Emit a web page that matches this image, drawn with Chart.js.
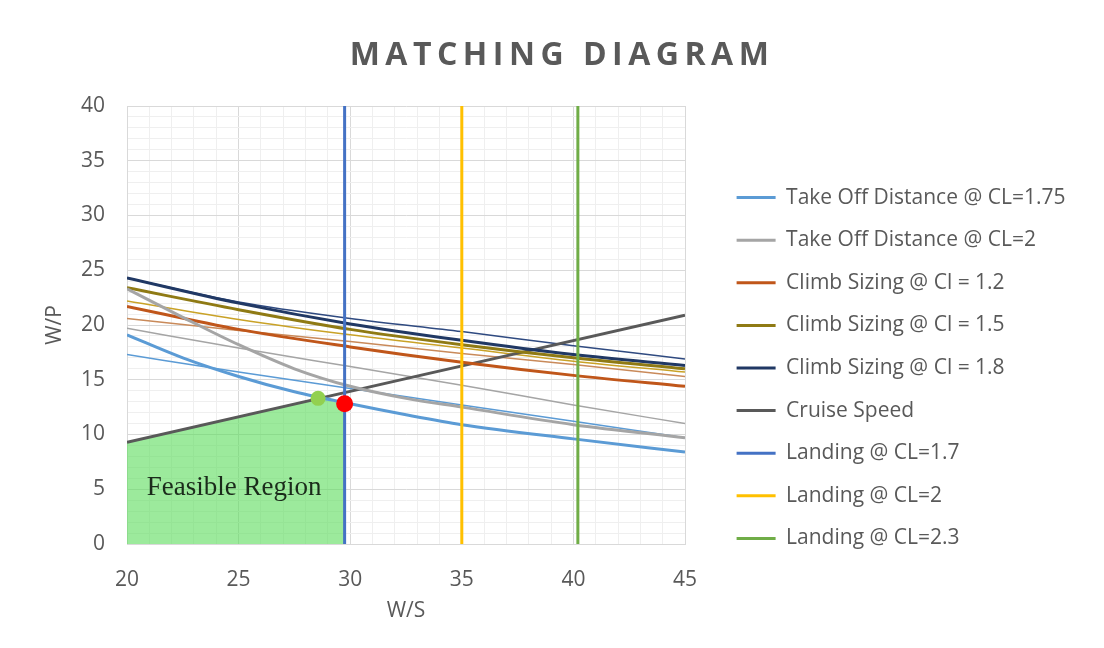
<!DOCTYPE html>
<html>
<head>
<meta charset="utf-8">
<script src="https://cdn.jsdelivr.net/npm/chart.js@4.4.1/dist/chart.umd.min.js"></script>
<style>
  html, body { margin: 0; padding: 0; background: #fff; }
  #wrap { position: relative; width: 1104px; height: 648px; }
  #myChart { position: absolute; left: 0; top: 0; }
  #title {
    position: absolute; left: 0; top: 31px; width: 1104px; box-sizing: border-box;
    padding-left: 20px; text-align: center; line-height: 36px;
    font: bold 32px "Open Sans", sans-serif; letter-spacing: 5.5px; color: #595959;
  }
</style>
</head>
<body>
<div id="wrap">
  <canvas id="myChart" width="1104" height="648"></canvas>
  <div id="title">MATCHING DIAGRAM</div>
</div>
<script>
// DATA (W/S on x, W/P on y)
const wsCoarse = [20, 25, 30, 35, 40, 45];
const wsFine = [20, 22.5, 25, 27.5, 30, 32.5, 35, 40, 45];
const takeOff175 = [19.1, 17.0, 15.3, 13.9, 12.8, 11.8, 10.9, 9.6, 8.4];
const takeOff2 = [23.3, 20.7, 18.2, 16.0, 14.4, 13.3, 12.5, 10.9, 9.7];
const climb12 = [21.7, 19.6, 18.0, 16.6, 15.4, 14.4];
const climb15 = [23.4, 21.4, 19.6, 18.2, 17.0, 16.0];
const climb18 = [24.3, 22.0, 20.1, 18.6, 17.3, 16.3];
const cruiseWs = [20, 45];
const cruiseWp = [9.3, 20.9];
const landingWs = [29.75, 35, 40.2];
const landingSpan = [0, 40];
// earlier runs, thin lines with no legend entry
const oldClimb18 = [24.3, 22.1, 20.6, 19.4, 18.1, 16.9];
const oldClimb15 = [22.2, 20.5, 19.1, 17.9, 16.7, 15.7];
const oldClimb12 = [20.6, 19.5, 18.5, 17.4, 16.4, 15.3];
const oldTakeOff2 = [19.7, 17.9, 16.2, 14.5, 12.7, 11.0];
const oldTakeOff175 = [17.3, 15.7, 14.2, 12.7, 11.2, 9.7];
// feasible region and chosen points
const feasibleWs = [20, 20, 28.56, 29.75, 29.75];
const feasibleWp = [0, 9.3, 13.3, 12.8, 0];
const designPoint = [29.75, 12.8];
const crossPoint = [28.56, 13.3];

const pts = (xs, ys) => xs.map((x, i) => ({x: x, y: ys[i]}));
const vline = (x) => landingSpan.map(y => ({x: x, y: y}));

function curve(label, xs, ys, color, width, order) {
    return {
        label: label,
        data: pts(xs, ys),
        showLine: true,
        borderColor: color,
        backgroundColor: color,
        borderWidth: width,
        pointRadius: 0,
        cubicInterpolationMode: 'monotone',
        order: order,
    };
}

const datasets = [
    curve('Take Off Distance @ CL=1.75', wsFine, takeOff175, '#5B9BD5', 3, 2),
    curve('Take Off Distance @ CL=2', wsFine, takeOff2, '#A5A5A5', 3, 2),
    curve('Climb Sizing @ Cl = 1.2', wsCoarse, climb12, '#C0561A', 3, 2),
    curve('Climb Sizing @ Cl = 1.5', wsCoarse, climb15, '#8F7A14', 3, 2),
    curve('Climb Sizing @ Cl = 1.8', wsCoarse, climb18, '#203864', 3, 2),
    curve('Cruise Speed', cruiseWs, cruiseWp, '#595959', 3, 2),
    {label: 'Landing @ CL=1.7', data: vline(landingWs[0]), showLine: true, borderColor: '#4472C4', backgroundColor: '#4472C4', borderWidth: 3, pointRadius: 0, order: 1},
    {label: 'Landing @ CL=2', data: vline(landingWs[1]), showLine: true, borderColor: '#FFC000', backgroundColor: '#FFC000', borderWidth: 3, pointRadius: 0, order: 1},
    {label: 'Landing @ CL=2.3', data: vline(landingWs[2]), showLine: true, borderColor: '#70AD47', backgroundColor: '#70AD47', borderWidth: 3, pointRadius: 0, order: 1},
    curve(undefined, wsCoarse, oldClimb18, '#2F4A80', 1.5, 3),
    curve(undefined, wsCoarse, oldClimb15, '#C9A227', 1.5, 3),
    curve(undefined, wsCoarse, oldClimb12, '#C98A5A', 1.5, 3),
    curve(undefined, wsCoarse, oldTakeOff2, '#A5A5A5', 1.5, 3),
    curve(undefined, wsCoarse, oldTakeOff175, '#5B9BD5', 1.5, 3),
    {data: [{x: designPoint[0], y: designPoint[1]}], pointRadius: 8.5, pointBackgroundColor: '#FF0000', pointBorderWidth: 0, order: 0},
    {data: [{x: crossPoint[0], y: crossPoint[1]}], pointRadius: 7.5, pointBackgroundColor: '#92D050', pointBorderWidth: 0, order: 0},
    {data: pts(feasibleWs, feasibleWp), showLine: true, fill: 'origin', backgroundColor: 'rgba(90, 220, 90, 0.6)', borderWidth: 0, pointRadius: 0, order: 10},
];

const gridColor = (ctx) => (ctx.tick && ctx.tick.value % 5 === 0) ? '#d9d9d9' : '#efefef';
const fiveOnly = (v) => (v % 5 === 0 ? v : '');

// fixed legend width so the plot keeps its size, then nudge it right like the original
const legendFix = {
    id: 'legendFix',
    beforeLayout(chart) {
        const lg = chart.legend;
        if (lg && !lg._fixedFit) {
            const fit = lg.fit;
            lg.fit = function () { fit.call(this); this.width = 359; };
            lg._fixedFit = true;
        }
    },
    afterLayout(chart) {
        const lg = chart.legend;
        lg.left += 30; lg.right += 30;
        lg.top -= 2; lg.bottom -= 2;
    }
};

const regionLabel = {
    id: 'regionLabel',
    afterDatasetsDraw(chart) {
        const {ctx, scales} = chart;
        ctx.save();
        ctx.font = '27px "Liberation Serif", serif';
        ctx.fillStyle = '#1b2b1b';
        ctx.textAlign = 'center';
        ctx.fillText('Feasible Region', scales.x.getPixelForValue(24.8), scales.y.getPixelForValue(4.5));
        ctx.restore();
    }
};

Chart.defaults.font.family = "'Open Sans', sans-serif";
Chart.defaults.color = '#595959';

const config = {
    type: 'scatter',
    data: {datasets: datasets},
    options: {
        responsive: false,
        animation: false,
        layout: {padding: {left: 40, top: 106, right: 60, bottom: 14}},
        plugins: {
            tooltip: {enabled: false},
            legend: {
                position: 'right',
                labels: {
                    usePointStyle: true,
                    pointStyle: 'line',
                    pointStyleWidth: 39,
                    padding: 21.6,
                    font: {size: 21},
                    color: '#595959',
                    filter: (item) => !!item.text,
                    sort: (a, b) => a.datasetIndex - b.datasetIndex,
                },
            },
        },
        scales: {
            x: {
                type: 'linear', min: 20, max: 45,
                ticks: {stepSize: 1, maxTicksLimit: 100, autoSkip: false, maxRotation: 0, padding: 23, font: {size: 21}, callback: fiveOnly},
                grid: {color: gridColor, drawTicks: false},
                border: {color: '#d9d9d9'},
                title: {display: true, text: 'W/S', font: {size: 21}, padding: {top: 0, bottom: 10}},
                afterFit: (s) => { s.height = 90; },
            },
            y: {
                type: 'linear', min: 0, max: 40,
                ticks: {stepSize: 1, maxTicksLimit: 100, autoSkip: false, padding: 22, font: {size: 21}, callback: fiveOnly},
                grid: {color: gridColor, drawTicks: false},
                border: {color: '#d9d9d9'},
                title: {display: true, text: 'W/P', font: {size: 21}, padding: {top: 2, bottom: 0}},
                afterFit: (s) => { s.width = 87; },
            },
        },
    },
    plugins: [legendFix, regionLabel],
};

function drawChart() {
    const ctx = document.getElementById('myChart');
    return new Chart(ctx, config);
}
drawChart();
</script>
</body>
</html>
